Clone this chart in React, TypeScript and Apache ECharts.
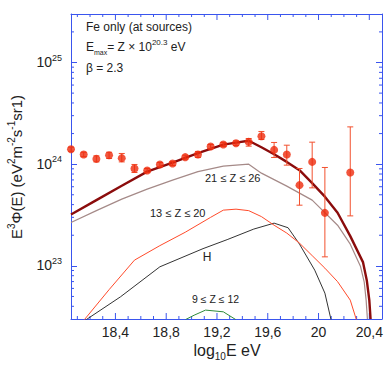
import { useEffect, useRef } from 'react';
import * as echarts from 'echarts';

const FONT = '"Liberation Sans", Arial, Helvetica, sans-serif';
const BLUE = '#3a55ee';
const TEXT = '#222222';

const X_MIN = 18.05;
const X_MAX = 20.5;
const Y_MIN = 3e22;
const Y_MAX = 3e25;

const xLabelTicks = [18.4, 18.8, 19.2, 19.6, 20, 20.4];
const xMinorTicks = [18.1, 18.2, 18.3, 18.5, 18.6, 18.7, 18.9, 19.0, 19.1, 19.3, 19.4, 19.5,
  19.7, 19.8, 19.9, 20.1, 20.2, 20.3];
const yLabelTicks = [1e23, 1e24, 1e25];
const yMinorTicks = [
  4e22, 5e22, 6e22, 7e22, 8e22, 9e22,
  2e23, 3e23, 4e23, 5e23, 6e23, 7e23, 8e23, 9e23,
  2e24, 3e24, 4e24, 5e24, 6e24, 7e24, 8e24, 9e24,
  2e25,
];

// Data points
const pointX = [18.05, 18.15, 18.25, 18.35, 18.45, 18.55, 18.65, 18.75, 18.85, 18.95, 19.05,
  19.15, 19.25, 19.35, 19.45, 19.55, 19.65, 19.75, 19.85, 19.95, 20.05, 20.25];
const pointY = [1.40e24, 1.246e24, 1.127e24, 1.226e24, 1.146e24, 9.07e23, 8.67e23, 9.93e23, 1.016e24,
  1.172e24, 1.246e24, 1.493e24, 1.562e24, 1.609e24, 1.657e24, 1.885e24, 1.382e24, 1.246e24, 6.22e23,
  1.053e24, 3.32e23, 8.28e23];
const errLow = [1.34e24, 1.185e24, 1.053e24, 1.138e24, 1.053e24, 8.28e23, 8.28e23, 9.49e23, 9.71e23,
  1.12e24, 1.164e24, 1.427e24, 1.493e24, 1.528e24, 1.503e24, 1.749e24, 1.164e24, 9.78e23, 3.95e23,
  5.85e23, 1.226e23, 3.10e23];
const errHigh = [1.47e24, 1.31e24, 1.207e24, 1.31e24, 1.274e24, 9.93e23, 9.07e23, 1.039e24, 1.063e24,
  1.226e24, 1.334e24, 1.562e24, 1.635e24, 1.694e24, 1.789e24, 2.097e24, 1.635e24, 1.537e24, 9.07e23,
  1.646e24, 9.28e23, 2.327e24];

// Total flux (thick dark red)
const totalX = [18.05, 18.25, 18.45, 18.65, 18.85, 19.05, 19.25, 19.35, 19.45, 19.55, 19.65, 19.75,
  19.85, 19.95, 20.05, 20.15, 20.25, 20.35, 20.38, 20.40, 20.41];
const totalY = [3.20e23, 4.43e23, 6.13e23, 8.44e23, 1.034e24, 1.282e24, 1.555e24, 1.627e24, 1.702e24,
  1.469e24, 1.254e24, 1.053e24, 8.73e23, 6.51e23, 4.79e23, 3.33e23, 1.96e23, 1.088e23, 7.23e22,
  4.60e22, 3.0e22];

// 21 <= Z <= 26
const heavyX = [18.05, 18.25, 18.45, 18.65, 18.85, 19.05, 19.25, 19.35, 19.45, 19.55, 19.75, 19.95,
  20.15, 20.25, 20.33, 20.36, 20.375, 20.385];
const heavyY = [2.67e23, 3.49e23, 4.53e23, 5.68e23, 6.96e23, 8.44e23, 9.56e23, 9.78e23, 1.0e24,
  8.16e23, 6.08e23, 4.43e23, 2.51e23, 1.635e23, 9.93e22, 6.92e22, 4.60e22, 3.0e22];

// 13 <= Z <= 20
const midX = [18.15, 18.35, 18.55, 18.75, 18.95, 19.15, 19.25, 19.35, 19.45, 19.55, 19.65, 19.75,
  19.85, 19.95, 20.05, 20.15, 20.25, 20.30];
const midY = [2.9e22, 5.83e22, 1.138e23, 1.58e23, 2.14e23, 3.0e23, 3.53e23, 3.61e23, 3.49e23,
  3.05e23, 2.51e23, 2.10e23, 1.672e23, 1.26e23, 9.49e22, 6.99e22, 4.60e22, 2.9e22];

// H
const hX = [18.16, 18.44, 18.75, 19.09, 19.28, 19.49, 19.65, 19.76, 19.85, 19.97, 20.05, 20.10];
const hY = [2.9e22, 4.96e22, 9.78e22, 1.476e23, 1.81e23, 2.30e23, 2.63e23, 2.37e23, 1.635e23,
  9.07e22, 5.39e22, 2.9e22];

// 9 <= Z <= 12
const lightX = [18.95, 19.02, 19.11, 19.25, 19.35];
const lightY = [2.95e22, 3.27e22, 3.67e22, 3.53e22, 2.95e22];

const zip = (xs: number[], ys: number[]) => xs.map((x, i) => [x, ys[i]]);

const isAt = (v: number, list: number[], tol: number) => list.some((t) => Math.abs(t - v) < tol);

export default function App() {
  const ref = useRef<HTMLDivElement>(null);

  useEffect(() => {
    if (!ref.current) return;
    const chart = echarts.init(ref.current, undefined, { renderer: 'svg' });

    const xFmt = (v: number) => {
      if (!isAt(v, xLabelTicks, 1e-6)) return '';
      const r = Math.round(v * 10) / 10;
      return String(r).replace('.', ',');
    };
    const yFmt = (v: number) => {
      const lv = Math.log10(v);
      const e = Math.round(lv);
      if (Math.abs(lv - e) > 1e-6 || !isAt(Math.pow(10, e), yLabelTicks, Math.pow(10, e) * 1e-6)) return '';
      return `{b|10}{s|${e}}`;
    };

    const xBase = {
      type: 'value' as const,
      min: X_MIN,
      max: X_MAX,
      interval: 0.05,
      splitLine: { show: false },
      axisTick: { show: false },
      gridIndex: 0,
    };
    const yBase = {
      type: 'log' as const,
      logBase: 10,
      min: Y_MIN,
      max: Y_MAX,
      splitLine: { show: false },
      gridIndex: 0,
    };

    const xTickData = [
      ...xMinorTicks.map((v) => [v, Y_MIN, 3]),
      ...xLabelTicks.map((v) => [v, Y_MIN, 6]),
    ];

    const option: any = {
      animation: false,
      backgroundColor: '#ffffff',
      textStyle: { fontFamily: FONT },
      grid: { left: 71, top: 14, width: 311, height: 305, outerBoundsMode: 'none', containLabel: false },
      xAxis: [
        {
          ...xBase,
          position: 'bottom',
          axisLine: { show: true, onZero: false, lineStyle: { color: BLUE, width: 1 } },
          axisLabel: {
            formatter: xFmt,
            color: TEXT,
            fontSize: 14,
            fontFamily: FONT,
            margin: 6,
            showMinLabel: true,
            showMaxLabel: true,
          },
        },
        {
          ...xBase,
          position: 'top',
          axisLine: { show: true, onZero: false, lineStyle: { color: BLUE, width: 1 } },
          axisLabel: { show: false },
        },
      ],
      yAxis: [
        {
          ...yBase,
          position: 'left',
          axisLine: { show: true, onZero: false, lineStyle: { color: BLUE, width: 1 } },
          axisTick: { show: true, inside: true, length: 6, lineStyle: { color: BLUE } },
          axisLabel: {
            formatter: yFmt,
            color: TEXT,
            margin: 9,
            padding: [0, 0, 3, 0],
            rich: {
              b: { fontSize: 14, fontFamily: FONT, color: TEXT, lineHeight: 16, verticalAlign: 'bottom' },
              s: { fontSize: 9, fontFamily: FONT, color: TEXT, lineHeight: 16, verticalAlign: 'top' },
            },
          },
        },
        {
          ...yBase,
          position: 'right',
          axisLine: { show: true, onZero: false, lineStyle: { color: BLUE, width: 1 } },
          axisTick: { show: true, inside: true, length: 6, lineStyle: { color: BLUE } },
          axisLabel: { show: false },
        },
      ],
      series: [
        {
          type: 'custom',
          name: 'minor-y-ticks',
          xAxisIndex: 0,
          yAxisIndex: 0,
          silent: true,
          clip: false,
          data: yMinorTicks.map((v) => [X_MIN, v]),
          renderItem: (params: any, api: any) => {
            const p = api.coord([api.value(0), api.value(1)]);
            const cs = params.coordSys;
            const st = { stroke: BLUE, lineWidth: 1 };
            return {
              type: 'group',
              children: [
                { type: 'line', shape: { x1: cs.x, y1: p[1], x2: cs.x + 3, y2: p[1] }, style: st },
                { type: 'line', shape: { x1: cs.x + cs.width - 3, y1: p[1], x2: cs.x + cs.width, y2: p[1] }, style: st },
              ],
            };
          },
        },
        {
          type: 'custom',
          name: 'x-ticks',
          xAxisIndex: 0,
          yAxisIndex: 0,
          silent: true,
          clip: false,
          data: xTickData,
          renderItem: (params: any, api: any) => {
            const p = api.coord([api.value(0), api.value(1)]);
            const len = api.value(2);
            const cs = params.coordSys;
            const st = { stroke: BLUE, lineWidth: 1 };
            return {
              type: 'group',
              children: [
                { type: 'line', shape: { x1: p[0], y1: cs.y + cs.height, x2: p[0], y2: cs.y + cs.height - len }, style: st },
                { type: 'line', shape: { x1: p[0], y1: cs.y, x2: p[0], y2: cs.y + len }, style: st },
              ],
            };
          },
        },
        {
          type: 'line',
          name: '9 ≤ Z ≤ 12',
          data: zip(lightX, lightY),
          showSymbol: false,
          symbol: 'none',
          clip: true,
          lineStyle: { color: '#2e8b3a', width: 1 },
          z: 3,
        },
        {
          type: 'line',
          name: 'H',
          data: zip(hX, hY),
          showSymbol: false,
          symbol: 'none',
          clip: true,
          lineStyle: { color: '#333333', width: 1 },
          z: 3,
        },
        {
          type: 'line',
          name: '13 ≤ Z ≤ 20',
          data: zip(midX, midY),
          showSymbol: false,
          symbol: 'none',
          clip: true,
          lineStyle: { color: '#ff4a2a', width: 1 },
          z: 3,
        },
        {
          type: 'line',
          name: '21 ≤ Z ≤ 26',
          data: zip(heavyX, heavyY),
          showSymbol: false,
          symbol: 'none',
          clip: true,
          lineStyle: { color: '#a58a88', width: 1.2 },
          z: 3,
        },
        {
          type: 'line',
          name: 'total',
          data: zip(totalX, totalY),
          showSymbol: false,
          symbol: 'none',
          clip: true,
          lineStyle: { color: '#8b0c0c', width: 2.4 },
          z: 4,
        },
        {
          type: 'custom',
          name: 'errors',
          xAxisIndex: 0,
          yAxisIndex: 0,
          clip: false,
          data: pointX.map((x, i) => [x, errLow[i], errHigh[i]]),
          encode: { x: 0, y: [1, 2] },
          renderItem: (params: any, api: any) => {
            const x = api.value(0);
            const lo = api.coord([x, api.value(1)]);
            const hi = api.coord([x, api.value(2)]);
            const w = 3;
            const st = { stroke: '#f2502e', lineWidth: 1 };
            return {
              type: 'group',
              children: [
                { type: 'line', shape: { x1: lo[0], y1: lo[1], x2: hi[0], y2: hi[1] }, style: st },
                { type: 'line', shape: { x1: lo[0] - w, y1: lo[1], x2: lo[0] + w, y2: lo[1] }, style: st },
                { type: 'line', shape: { x1: hi[0] - w, y1: hi[1], x2: hi[0] + w, y2: hi[1] }, style: st },
              ],
            };
          },
          z: 5,
        },
        {
          type: 'scatter',
          name: 'data',
          data: zip(pointX, pointY),
          symbol: 'circle',
          symbolSize: 8,
          clip: false,
          itemStyle: { color: '#ee2a0c' },
          z: 6,
        },
      ],
      graphic: [
        {
          type: 'text',
          x: 86,
          y: 27,
          style: { text: 'Fe only (at sources)', font: `12px ${FONT}`, fill: TEXT, verticalAlign: 'middle' },
        },
        {
          type: 'text',
          x: 86,
          y: 47,
          style: {
            text: '{n|E}{sub|max}{n|= Z × 10}{sup|20.3}{n| eV}',
            verticalAlign: 'middle',
            rich: {
              n: { fontSize: 12, fontFamily: FONT, fill: TEXT, lineHeight: 18, verticalAlign: 'middle' },
              sub: { fontSize: 7, fontFamily: FONT, fill: TEXT, lineHeight: 18, verticalAlign: 'bottom' },
              sup: { fontSize: 8, fontFamily: FONT, fill: TEXT, lineHeight: 18, verticalAlign: 'top' },
            },
          },
        },
        {
          type: 'text',
          x: 86,
          y: 68,
          style: { text: 'β = 2.3', font: `12px ${FONT}`, fill: TEXT, verticalAlign: 'middle' },
        },
        {
          type: 'text',
          x: 205,
          y: 178,
          style: { text: '21 ≤ Z ≤ 26', font: `11px ${FONT}`, fill: TEXT, verticalAlign: 'middle' },
        },
        {
          type: 'text',
          x: 150,
          y: 213,
          style: { text: '13 ≤ Z ≤ 20', font: `11px ${FONT}`, fill: TEXT, verticalAlign: 'middle' },
        },
        {
          type: 'text',
          x: 207,
          y: 257,
          style: { text: 'H', font: `12px ${FONT}`, fill: TEXT, align: 'center', verticalAlign: 'middle' },
        },
        {
          type: 'text',
          x: 192,
          y: 299,
          style: { text: '9 ≤ Z ≤ 12', font: `10.5px ${FONT}`, fill: TEXT, verticalAlign: 'middle' },
        },
        {
          type: 'text',
          x: 227,
          y: 350,
          style: {
            text: '{n|log}{sub|10}{n|E eV}',
            align: 'center',
            verticalAlign: 'middle',
            rich: {
              n: { fontSize: 16, fontFamily: FONT, fill: TEXT, lineHeight: 22, verticalAlign: 'middle' },
              sub: { fontSize: 10, fontFamily: FONT, fill: TEXT, lineHeight: 22, verticalAlign: 'bottom' },
            },
          },
        },
        {
          type: 'text',
          x: 16,
          y: 167,
          rotation: Math.PI / 2,
          style: {
            text: '{n|E}{sup|3}{n|Φ(E) (eV}{sup|2}{n|m}{sup|-2}{n|s}{sup|-1}{n|sr1)}',
            align: 'center',
            verticalAlign: 'middle',
            rich: {
              n: { fontSize: 15, fontFamily: FONT, fill: TEXT, lineHeight: 20, verticalAlign: 'middle' },
              sup: { fontSize: 10, fontFamily: FONT, fill: TEXT, lineHeight: 20, verticalAlign: 'top' },
            },
          },
        },
      ],
    };

    chart.setOption(option);
    return () => chart.dispose();
  }, []);

  return (
    <div
      style={{ position: 'fixed', left: 0, top: 0, width: 390, height: 371, background: '#fff' }}
    >
      <div ref={ref} style={{ width: 390, height: 371 }} />
    </div>
  );
}
